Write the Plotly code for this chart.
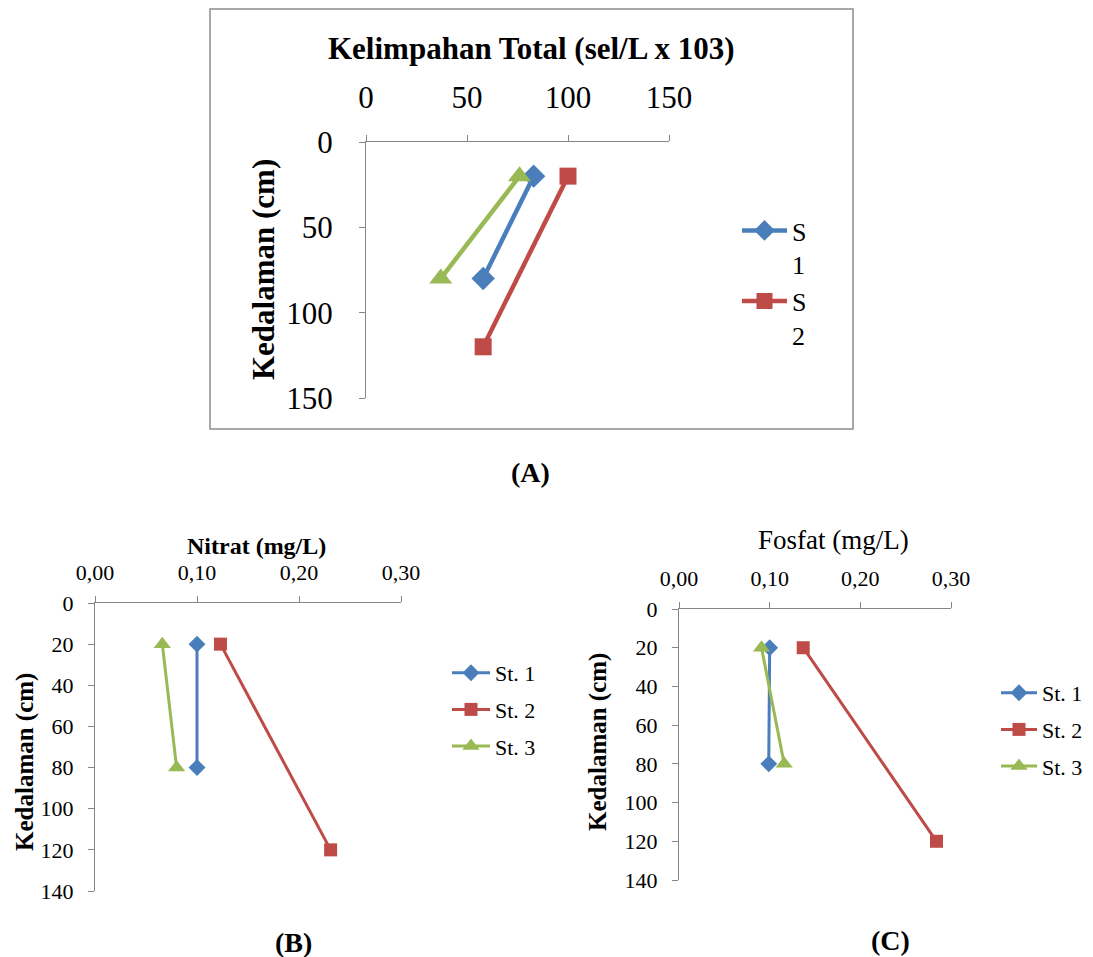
import plotly.graph_objects as go

W, H = 1093, 957

# ---------- data ----------
depth_A = [20, 80]
depth_A2 = [20, 120]
kelimpahan_s1 = [83, 58]
kelimpahan_s2 = [100, 58]
kelimpahan_s3 = [76, 37]

depth_B1 = [20, 80]
depth_B2 = [20, 120]
depth_B3 = [20, 80]
nitrat_st1 = [0.100, 0.100]
nitrat_st2 = [0.123, 0.231]
nitrat_st3 = [0.066, 0.080]

fosfat_st1 = [0.100, 0.099]
fosfat_st2 = [0.137, 0.284]
fosfat_st3 = [0.091, 0.116]

ticks_A_x = [0, 50, 100, 150]
ticks_A_y = [0, 50, 100, 150]
ticks_BC_x = [0.0, 0.1, 0.2, 0.3]
ticks_BC_x_text = ["0,00", "0,10", "0,20", "0,30"]
ticks_BC_y = [0, 20, 40, 60, 80, 100, 120, 140]

BLUE = "#4A7EBB"
RED = "#BE4B48"
GREEN = "#98B954"
AX = "#868686"
FONT = "Liberation Serif, Times New Roman, serif"


def px(x):
    return x / W


def py(y):
    return 1 - y / H


fig = go.Figure()

# ---------- Chart A ----------
fig.add_trace(go.Scatter(x=kelimpahan_s1, y=depth_A, name="S<br>1", mode="lines+markers",
                         line=dict(color=BLUE, width=4.5), marker=dict(symbol="diamond", size=18, color=BLUE),
                         xaxis="x", yaxis="y", legend="legend"))
fig.add_trace(go.Scatter(x=kelimpahan_s2, y=depth_A2, name="S<br>2", mode="lines+markers",
                         line=dict(color=RED, width=4.5), marker=dict(symbol="square", size=17, color=RED),
                         xaxis="x", yaxis="y", legend="legend"))
fig.add_trace(go.Scatter(x=kelimpahan_s3, y=depth_A, name="S3", mode="lines+markers", showlegend=False,
                         line=dict(color=GREEN, width=4.5), marker=dict(symbol="triangle-up", size=20, color=GREEN),
                         xaxis="x", yaxis="y"))

# ---------- Chart B ----------
for xs, ys, nm, col, sym, sz, g in [
    (nitrat_st1, depth_B1, "St. 1", BLUE, "diamond", 13, "a"),
    (nitrat_st2, depth_B2, "St. 2", RED, "square", 13, "b"),
    (nitrat_st3, depth_B3, "St. 3", GREEN, "triangle-up", 15, "c"),
]:
    fig.add_trace(go.Scatter(x=xs, y=ys, name=nm, mode="lines+markers", legendgroup="B" + g,
                             line=dict(color=col, width=3), marker=dict(symbol=sym, size=sz, color=col),
                             xaxis="x2", yaxis="y2", legend="legend2"))

# ---------- Chart C ----------
for xs, ys, nm, col, sym, sz, g in [
    (fosfat_st1, depth_B1, "St. 1", BLUE, "diamond", 13, "a"),
    (fosfat_st2, depth_B2, "St. 2", RED, "square", 13, "b"),
    (fosfat_st3, depth_B3, "St. 3", GREEN, "triangle-up", 15, "c"),
]:
    fig.add_trace(go.Scatter(x=xs, y=ys, name=nm, mode="lines+markers", legendgroup="C" + g,
                             line=dict(color=col, width=3), marker=dict(symbol=sym, size=sz, color=col),
                             xaxis="x3", yaxis="y3", legend="legend3"))


def xax(domain, anchor, rng, tickvals, ticktext, fs, standoff):
    return dict(domain=domain, anchor=anchor, side="top", range=rng, tickvals=tickvals, ticktext=ticktext,
                showline=True, linecolor=AX, linewidth=1.3, ticks="outside", ticklen=6, tickcolor=AX,
                tickwidth=1.3, showgrid=False, zeroline=False, ticklabelstandoff=standoff, automargin=False,
                tickfont=dict(family=FONT, size=fs, color="black"), fixedrange=True)


def yax(domain, anchor, rng, tickvals, fs, standoff):
    return dict(domain=domain, anchor=anchor, range=rng, tickvals=tickvals,
                showline=True, linecolor=AX, linewidth=1.3, ticks="outside", ticklen=6, tickcolor=AX,
                tickwidth=1.3, showgrid=False, zeroline=False, ticklabelstandoff=standoff, automargin=False,
                tickfont=dict(family=FONT, size=fs, color="black"), fixedrange=True)


layout = dict(
    width=W, height=H, margin=dict(l=0, r=0, t=0, b=0, autoexpand=False),
    paper_bgcolor="white", plot_bgcolor="white",
    font=dict(family=FONT, color="black"),
    xaxis=xax([px(366), px(669)], "y", [0, 150], ticks_A_x, [str(v) for v in ticks_A_x], 31, 14),
    yaxis=yax([py(398), py(142)], "x", [150, 0], ticks_A_y, 31, 20),
    xaxis2=xax([px(95), px(401)], "y2", [0, 0.3], ticks_BC_x, ticks_BC_x_text, 22, 7),
    yaxis2=yax([py(891), py(603)], "x2", [140, 0], ticks_BC_y, 22, 10),
    xaxis3=xax([px(679), px(951)], "y3", [0, 0.3], ticks_BC_x, ticks_BC_x_text, 22, 7),
    yaxis3=yax([py(880), py(609)], "x3", [140, 0], ticks_BC_y, 22, 10),
    legend=dict(x=px(737), y=py(207), xanchor="left", yanchor="top", valign="top", itemwidth=45,
                font=dict(family=FONT, size=26), bgcolor="rgba(0,0,0,0)", tracegroupgap=0),
    legend2=dict(x=px(447), y=py(652), xanchor="left", yanchor="top", traceorder="grouped", itemwidth=38,
                 tracegroupgap=5, font=dict(family=FONT, size=22), bgcolor="rgba(0,0,0,0)"),
    legend3=dict(x=px(996), y=py(672), xanchor="left", yanchor="top", traceorder="grouped", itemwidth=36,
                 tracegroupgap=5, font=dict(family=FONT, size=22), bgcolor="rgba(0,0,0,0)"),
    shapes=[dict(type="rect", xref="paper", yref="paper", x0=px(210), x1=px(853), y0=py(429), y1=py(9),
                 line=dict(color="#8C8C8C", width=1.5), fillcolor="rgba(0,0,0,0)")],
    annotations=[
        dict(text="<b>Kelimpahan Total (sel/L x 103)</b>", x=px(531), y=py(48), font=dict(size=31)),
        dict(text="<b>Kedalaman (cm)</b>", x=px(264), y=py(270), textangle=-90, font=dict(size=31)),
        dict(text="<b>(A)</b>", x=px(530), y=py(472), font=dict(size=28)),
        dict(text="<b>Nitrat (mg/L)</b>", x=px(256), y=py(546), font=dict(size=24)),
        dict(text="<b>Kedalaman (cm)</b>", x=px(25), y=py(762), textangle=-90, font=dict(size=25)),
        dict(text="<b>(B)</b>", x=px(293), y=py(942), font=dict(size=28)),
        dict(text="Fosfat (mg/L)", x=px(833), y=py(540), font=dict(size=27)),
        dict(text="<b>Kedalaman (cm)</b>", x=px(598), y=py(742), textangle=-90, font=dict(size=25)),
        dict(text="<b>(C)</b>", x=px(890), y=py(940), font=dict(size=28)),
    ],
)
for a in layout["annotations"]:
    a.update(xref="paper", yref="paper", showarrow=False, xanchor="center", yanchor="middle")
    a["font"].update(family=FONT, color="black")

fig.update_layout(**layout)
fig.write_html("out.html", config={"displayModeBar": False},
               post_script="document.body.style.margin='0px'; document.body.style.overflow='hidden';")
